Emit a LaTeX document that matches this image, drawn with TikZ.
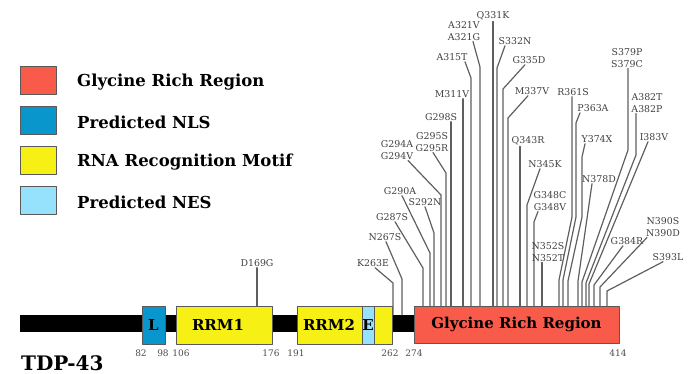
\documentclass[tikz,border=0pt]{standalone}
\usepackage{fontspec}
\setmainfont{DejaVu Serif}
\definecolor{glyred}{RGB}{249,91,74}
\definecolor{nlsblue}{RGB}{8,150,204}
\definecolor{rrmyellow}{RGB}{247,240,20}
\definecolor{nesblue}{RGB}{150,225,252}
\definecolor{stemgray}{RGB}{95,95,95}
\begin{document}
\begin{tikzpicture}[x=1pt,y=-1pt,line join=round,line cap=round,
    dom/.style={draw=black!65,line width=0.9pt,inner sep=0pt,minimum height=38pt,font=\fontsize{15}{15}\selectfont\bfseries},
    legbox/.style={draw=black!65,line width=1pt,minimum width=36pt,minimum height=28pt,inner sep=0pt},
    legtext/.style={anchor=west,inner sep=0pt,font=\fontsize{16.5}{16.5}\selectfont\bfseries},
    mut/.style={inner sep=1pt,align=center,text=black!75,font=\fontsize{9.4}{11.5}\selectfont},
    posnum/.style={inner sep=0pt,text=black!70,font=\fontsize{9}{9}\selectfont},
    stem/.style={draw=stemgray,line width=1.2pt}]
  \useasboundingbox (0,0) rectangle (697,374);
  % legend
  \foreach \c/\t [count=\i] in {glyred/Glycine Rich Region,nlsblue/Predicted NLS,rrmyellow/RNA Recognition Motif,nesblue/Predicted NES}
  {
    \node[legbox,fill=\c] (leg\i) at (38,{81+40*(\i-1)}) {};
    \node[legtext] (legtxt\i) at (77,{82+40*(\i-1)}) {\t};
  }
  % protein
  \node[fill=black,minimum width=394pt,minimum height=17pt,inner sep=0pt] (bar) at (217,323.5) {};
  \node[dom,fill=nlsblue,minimum width=23pt] (nls) at (153.5,325) {L};
  \node[dom,fill=rrmyellow,minimum width=96pt] (rrm1) at (224,325) {};
  \node[inner sep=0pt,font=\fontsize{15}{15}\selectfont\bfseries] (rrm1txt) at (218,325) {RRM1};
  \node[dom,fill=rrmyellow,minimum width=95pt] (rrm2) at (344.5,325) {};
  \node[inner sep=0pt,font=\fontsize{15}{15}\selectfont\bfseries] (rrm2txt) at (329,325) {RRM2};
  \node[dom,fill=nesblue,minimum width=12pt] (nes) at (368,325) {E};
  \node[dom,fill=glyred,minimum width=205pt,minimum height=37pt] (gly) at (516.5,324.5) {Glycine Rich Region};
  \node[anchor=west,inner sep=0pt,font=\fontsize{20}{20}\selectfont\bfseries] (name) at (21,363) {TDP-43};
  \foreach \x/\r in {141/82,163/98,181/106,271/176,296/191,390/262,414/274,618/414}
    \node[posnum] (p\r) at (\x,353) {\r};
  % mutations
  \foreach \n/\x/\y/\t/\dx/\rest in {
    d169/257/263/D169G/0/{-- (257,306)},
    k263/373/263/K263E/2/{-- (393,283) -- (393,315)},
    n267/385/237/N267S/1/{-- (402,279) -- (402,315)},
    g287/392/217/G287S/3/{-- (423,268) -- (423,306)},
    g290/400/191/G290A/2/{-- (430,253) -- (430,306)},
    s292/425/202/S292N/0/{-- (434,233) -- (434,306)},
    g294/397/150/G294A\\G294V/11/{-- (441,195) -- (441,306)},
    g295/432/142/G295S\\G295R/1/{-- (446,173) -- (446,306)},
    g298/441/117/G298S/10/{-- (451,306)},
    m311/452/94/M311V/11/{-- (463,306)},
    a315/452/57/A315T/13/{-- (471,78) -- (471,306)},
    a321/464/31/A321V\\A321G/9/{-- (480,67) -- (480,306)},
    q331/493/16/Q331K/0/{-- (493,306)},
    s332/515/41/S332N/-10/{-- (497,68) -- (497,306)},
    g335/529/60/G335D/-4/{-- (503,89) -- (503,306)},
    m337/532/91/M337V/-4/{-- (508,118) -- (508,306)},
    q343/528/141/Q343R/-8/{-- (520,306)},
    n345/545/164/N345K/-5/{-- (527,205) -- (527,306)},
    g348/550/201/G348C\\G348V/-12/{-- (534,222) -- (534,306)},
    n352/548/252/N352S\\N352T/-6/{-- (542,306)},
    r361/573/92/R361S/-1/{-- (572,217) -- (559,280) -- (559,306)},
    p363/593/108/P363A/-13/{-- (576,123) -- (576,217) -- (563,280) -- (563,306)},
    y374/597/139/Y374X/-12/{-- (582,157) -- (582,217) -- (568,281) -- (568,306)},
    n378/599/179/N378D/-7/{-- (578,281) -- (578,306)},
    s379/627/58/S379P\\S379C/1/{-- (628,150) -- (582,282) -- (582,306)},
    a382/647/103/A382T\\A382P/-11/{-- (636,155) -- (586,283) -- (586,306)},
    i383/654/137/I383V/-6/{-- (589,284) -- (589,306)},
    g384/627/241/G384R/-4/{-- (594,285) -- (594,306)},
    n390/663/227/N390S\\N390D/-16/{-- (600,287) -- (600,306)},
    s393/668/257/S393L/-5/{-- (607,291) -- (607,306)}}
  {
    \node[mut] (\n) at (\x,\y) {\t};
    \draw[stem] ([xshift=\dx pt]\n.south) \rest;
  }
\end{tikzpicture}
\end{document}
